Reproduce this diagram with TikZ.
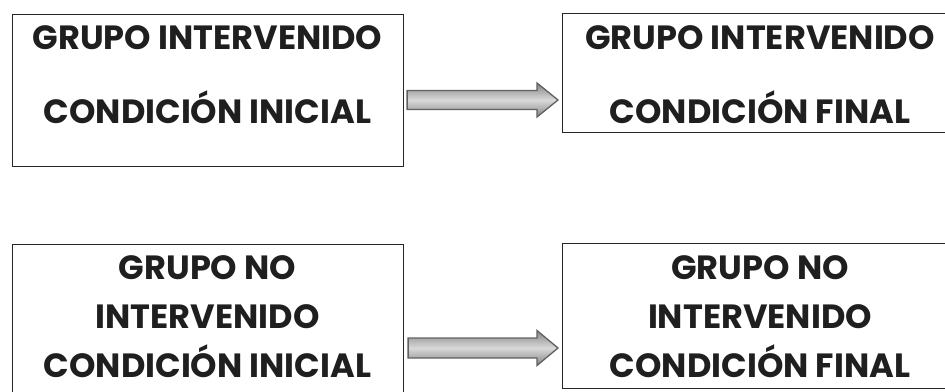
\documentclass[tikz,border=0pt]{standalone}
\usepackage{fontspec}
\setmainfont{Poppins}
\usetikzlibrary{calc}
\newcommand\blockarr[4]{% start, end, shaft half, head half
  \path[blockarrow] ($(#1)+(0,-#3)$) -- ($(#2)+(-21,-#3)$) -- ($(#2)+(-21,-#4)$) -- (#2)
    -- ($(#2)+(-21,#4)$) -- ($(#2)+(-21,#3)$) -- ($(#1)+(0,#3)$) -- cycle;}
\begin{document}
\begin{tikzpicture}[x=1pt,y=-1pt,
  boxline/.style={draw=black!85, line width=1.1pt, anchor=north west, inner sep=0pt},
  lbl/.style={font=\fontsize{33.6}{34}\selectfont\bfseries, text=black!88, anchor=base, inner sep=0pt},
  blockarrow/.style={draw=black!62, line width=1.3pt, top color=black!48, bottom color=black!48, middle color=black!15}]
\useasboundingbox (0,0) rectangle (945,391);
\clip (0,0) rectangle (945,391);
% boxes
\node[boxline, minimum width=391pt, minimum height=152pt] (b1) at (12,14) {};
\node[boxline, minimum width=396pt, minimum height=119pt] (b2) at (562,13) {};
\node[boxline, minimum width=391pt, minimum height=160pt] (b3) at (12,244) {};
\node[boxline, minimum width=396pt, minimum height=145pt] (b4) at (562,243) {};
% texts
\node[lbl] (t1a) at (207.5,49) {GRUPO INTERVENIDO};
\node[lbl] (t1b) at (207.5,123) {CONDICIÓN INICIAL};
\node[lbl] (t2a) at (760,49) {GRUPO INTERVENIDO};
\node[lbl] (t2b) at (760,123) {CONDICIÓN FINAL};
\node[lbl] (t3a) at (207.5,279) {GRUPO NO};
\node[lbl] (t3b) at (207.5,328) {INTERVENIDO};
\node[lbl] (t3c) at (207.5,377) {CONDICIÓN INICIAL};
\node[lbl] (t4a) at (760,279) {GRUPO NO};
\node[lbl] (t4b) at (760,328) {INTERVENIDO};
\node[lbl] (t4c) at (760,377) {CONDICIÓN FINAL};
% arrows
\coordinate (a1s) at ($(b1.north east |- 0,100)+(3,0)$);
\coordinate (a1e) at ($(b2.north west |- 0,100)+(-4,0)$);
\blockarr{a1s}{a1e}{9.5}{17}
\coordinate (a2s) at ($(b3.north east |- 0,348)+(4,0)$);
\coordinate (a2e) at ($(b4.north west |- 0,348)+(-4,0)$);
\blockarr{a2s}{a2e}{10}{17.5}
\end{tikzpicture}
\end{document}
